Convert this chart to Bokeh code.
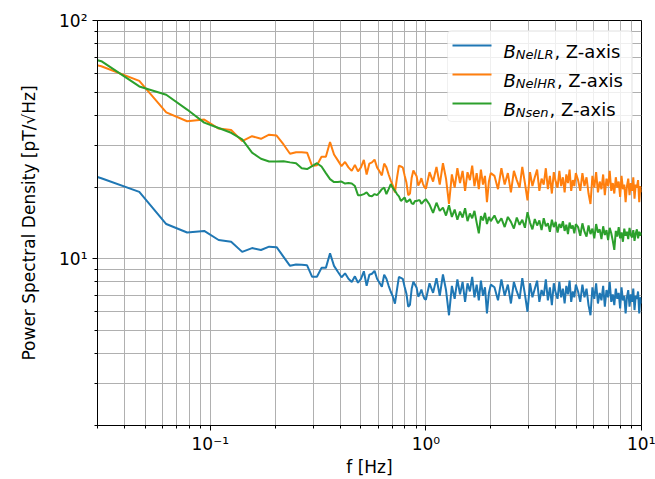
from bokeh.plotting import figure
from bokeh.models import FixedTicker, CustomJSTickFormatter, BoxAnnotation, Label, Range1d
from bokeh.embed import file_html
from bokeh.resources import INLINE

# ---------------- data ----------------
freq = [
    0.015625, 0.03125, 0.046875, 0.0625, 0.078125, 0.09375, 0.109375, 0.125,
    0.140625, 0.15625, 0.171875, 0.1875, 0.203125, 0.21875, 0.234375, 0.25,
    0.265625, 0.28125, 0.296875, 0.3125, 0.328125, 0.34375, 0.359375, 0.375,
    0.390625, 0.40625, 0.421875, 0.4375, 0.453125, 0.46875, 0.484375, 0.5,
    0.515625, 0.53125, 0.546875, 0.5625, 0.578125, 0.59375, 0.609375, 0.625,
    0.640625, 0.65625, 0.671875, 0.6875, 0.703125, 0.71875, 0.734375, 0.75,
    0.765625, 0.78125, 0.796875, 0.8125, 0.828125, 0.84375, 0.859375, 0.875,
    0.890625, 0.90625, 0.921875, 0.9375, 0.953125, 0.96875, 0.984375, 1.0,
    1.04, 1.08, 1.12, 1.16, 1.2, 1.24, 1.28, 1.32, 1.36, 1.4, 1.44, 1.48, 1.52,
    1.56, 1.6, 1.64, 1.68, 1.72, 1.76, 1.8, 1.84, 1.88, 1.92, 1.96, 2.0,
    2.08, 2.16, 2.24, 2.32, 2.4, 2.48, 2.56, 2.64, 2.72, 2.8, 2.88, 2.96, 3.04,
    3.12, 3.2, 3.28, 3.36, 3.44, 3.52, 3.6, 3.68, 3.76, 3.84, 3.92, 4.0, 4.08,
    4.16, 4.24, 4.32, 4.4, 4.48, 4.56, 4.64, 4.72, 4.8, 4.88, 4.96,
    5.08, 5.2, 5.32, 5.44, 5.56, 5.68, 5.8, 5.92, 6.04, 6.16, 6.28, 6.4, 6.52,
    6.64, 6.76, 6.88, 7.0, 7.12, 7.24, 7.36, 7.48, 7.6, 7.72, 7.84, 7.96, 8.08,
    8.2, 8.32, 8.44, 8.56, 8.68, 8.8, 8.92, 9.04, 9.16, 9.28, 9.4, 9.52, 9.64,
    9.76, 9.88, 10.0,
]

psd_nellr = [
    26.4, 21.8, 19.1, 14.0, 12.9, 13.1, 12.0, 11.8, 10.7, 11.1,
    10.9, 11.25, 11.2, 10.2, 9.35, 9.47, 9.44, 9.4, 8.41, 8.41,
    9.17, 9.17, 10.55, 9.35, 8.83, 8.37, 8.7, 8.25, 8.0, 8.45,
    7.94, 8.25, 8.87, 7.71, 8.58, 8.66, 8.91, 8.25, 7.94, 7.64,
    8.58, 8.25, 7.71, 7.28, 6.94, 6.49, 7.43, 8.41, 8.33, 8.25,
    7.64, 7.14, 6.30, 6.42, 7.49, 8.01, 7.79, 7.56, 6.94, 7.14,
    7.43, 7.07, 6.81, 6.74,
    7.9, 7.2, 8.3, 7.0, 8.6, 7.4, 5.8, 7.7, 6.8, 8.2, 7.1, 8.0, 6.6,
    7.9, 7.3, 8.4, 6.9, 7.8, 6.7, 8.1, 7.0, 7.6, 5.9, 7.2, 7.8,
    7.6, 6.7, 8.2, 7.0, 7.8, 6.5, 8.0, 7.3, 6.8, 8.3, 7.1, 6.0, 7.9,
    6.9, 7.5, 8.1, 6.6, 7.4, 7.0, 8.2, 6.7, 7.6, 6.4, 7.9, 7.2, 6.8,
    8.0, 6.9, 7.5, 6.5, 7.7, 7.1, 8.1, 6.6, 7.3, 6.9, 7.8,
    7.3, 6.6, 7.8, 6.9, 7.5, 6.4, 5.8, 7.6, 6.8, 7.9, 6.5, 7.2, 6.7,
    7.7, 6.3, 7.4, 6.9, 8.0, 6.6, 7.1, 6.4, 7.5, 6.8, 7.2, 6.2, 7.6,
    6.7, 7.0, 5.9, 6.9, 7.4, 6.3, 7.1, 6.6, 7.5, 6.1, 7.0, 6.8, 7.3,
    5.9, 6.9, 6.5,
]

psd_nelhr = [
    75.0, 64.3, 55.8, 41.2, 37.8, 38.4, 35.2, 34.7, 31.2, 32.7,
    31.9, 33.2, 32.9, 30.2, 27.6, 28.0, 28.0, 27.9, 24.5, 24.7,
    26.8, 26.8, 30.9, 27.4, 25.9, 24.5, 25.5, 24.2, 23.4, 24.8,
    23.3, 24.2, 26.0, 22.6, 25.1, 25.4, 26.1, 24.2, 23.3, 22.4,
    25.1, 24.2, 22.6, 21.3, 20.3, 19.0, 21.8, 24.6, 24.4, 24.2,
    22.4, 20.9, 18.5, 18.8, 21.9, 23.5, 22.8, 22.2, 20.3, 20.9,
    21.8, 20.7, 20.0, 19.7,
    23.1, 21.1, 24.3, 20.5, 25.2, 21.7, 17.0, 22.6, 19.9, 24.0, 20.8, 23.4, 19.3,
    23.1, 21.4, 24.6, 20.2, 22.9, 19.6, 23.7, 20.5, 22.3, 17.3, 21.1, 22.9,
    22.3, 19.6, 24.0, 20.5, 22.9, 19.0, 23.4, 21.4, 19.9, 24.3, 20.8, 17.6, 23.1,
    20.2, 22.0, 23.7, 19.3, 21.7, 20.5, 24.0, 19.6, 22.3, 18.8, 23.1, 21.1, 19.9,
    23.4, 20.2, 22.0, 19.0, 22.6, 20.8, 23.7, 19.3, 21.4, 20.2, 22.9,
    21.4, 19.3, 22.9, 20.2, 22.0, 18.8, 17.0, 22.3, 19.9, 23.1, 19.0, 21.1, 19.6,
    22.6, 18.5, 21.7, 20.2, 23.4, 19.3, 20.8, 18.8, 22.0, 19.9, 21.1, 18.2, 22.3,
    19.6, 20.5, 17.3, 20.2, 21.7, 18.5, 20.8, 19.3, 22.0, 17.9, 20.5, 19.9, 21.4,
    17.3, 20.2, 19.0,
]

psd_nsen = [
    79.0, 67.5, 52.9, 48.8, 42.3, 37.3, 35.4, 33.8, 31.7, 27.9,
    26.3, 25.6, 25.6, 25.7, 25.4, 25.2, 24.0, 23.8, 24.5, 25.2,
    24.4, 22.9, 21.6, 21.0, 21.0, 21.1, 20.7, 20.8, 20.7, 20.2,
    18.5, 18.5, 18.7, 19.0, 18.4, 18.3, 18.7, 18.5, 19.0, 19.6,
    19.9, 18.7, 19.6, 20.6, 19.8, 19.3, 18.7, 18.3, 17.5, 17.8,
    18.1, 17.3, 17.5, 17.8, 17.1, 17.0, 17.5, 17.5, 17.6, 17.6,
    17.0, 17.3, 17.6, 17.8,
    16.9, 15.6, 17.2, 15.9, 16.4, 15.2, 16.8, 15.0, 16.1, 14.6, 15.8, 14.9, 16.3,
    14.4, 15.5, 14.8, 15.9, 14.2, 12.8, 15.1, 14.5, 15.6, 14.0, 15.0, 14.4,
    15.2, 14.1, 14.8, 13.6, 15.0, 14.3, 13.4, 14.9, 13.9, 14.6, 13.5, 15.7, 14.2,
    13.3, 14.7, 13.8, 14.5, 13.2, 14.8, 13.7, 14.1, 13.0, 14.6, 13.6, 14.3, 12.9,
    14.0, 13.5, 14.4, 13.1, 13.9, 12.7, 14.2, 13.4, 13.8, 12.8, 14.0,
    13.6, 12.5, 14.1, 13.0, 12.4, 13.8, 12.7, 13.4, 12.2, 14.0, 12.9, 13.3, 12.1,
    13.7, 12.6, 13.2, 12.0, 13.5, 12.8, 11.9, 10.9, 13.1, 12.4, 13.6, 12.2, 12.9,
    11.8, 13.4, 12.5, 13.0, 12.1, 13.5, 12.6, 12.3, 13.2, 11.9, 12.8, 13.3, 12.2,
    13.0, 12.5, 12.9,
]

series_names = ["NelLR", "NelHR", "Nsen"]
series_colors = ["#1f77b4", "#ff7f0e", "#2ca02c"]

x_major = [0.1, 1, 10]
x_minor = [0.03, 0.04, 0.05, 0.06, 0.07, 0.08, 0.09,
           0.2, 0.3, 0.4, 0.5, 0.6, 0.7, 0.8, 0.9,
           2, 3, 4, 5, 6, 7, 8, 9]
y_major = [10, 100]
y_minor = [2, 3, 4, 5, 6, 7, 8, 9, 20, 30, 40, 50, 60, 70, 80, 90]

assert len(freq) == len(psd_nellr) == len(psd_nelhr) == len(psd_nsen), (
    len(freq), len(psd_nellr), len(psd_nelhr), len(psd_nsen))

# ---------------- figure ----------------
FONT = "DejaVu Sans"
p = figure(width=655, height=479, x_axis_type="log", y_axis_type="log",
           x_range=Range1d(0.03, 10), y_range=Range1d(2, 100),
           output_backend="svg", toolbar_location=None,
           min_border_left=97, min_border_right=14,
           min_border_top=20, min_border_bottom=53)

p.background_fill_color = "white"
p.border_fill_color = "white"
p.outline_line_color = "black"
p.outline_line_width = 1
p.outline_line_alpha = 1

p.xaxis.ticker = FixedTicker(ticks=x_major, minor_ticks=x_minor)
p.yaxis.ticker = FixedTicker(ticks=y_major, minor_ticks=y_minor)

fmt_code = """
const sup = {"-": "\\u207b", "0": "\\u2070", "1": "\\u00b9", "2": "\\u00b2", "3": "\\u00b3"};
const e = Math.round(Math.log10(tick));
return "10" + String(e).split("").map(c => sup[c]).join("");
"""
p.xaxis.formatter = CustomJSTickFormatter(code=fmt_code)
p.yaxis.formatter = CustomJSTickFormatter(code=fmt_code)

for ax in (p.xaxis, p.yaxis):
    ax.axis_line_color = "black"
    ax.major_tick_line_color = "black"
    ax.minor_tick_line_color = "black"
    ax.major_tick_in = 0
    ax.major_tick_out = 5
    ax.minor_tick_in = 0
    ax.minor_tick_out = 3
    ax.major_label_text_font = FONT
    ax.major_label_text_font_size = "17px"
    ax.major_label_text_color = "black"
    ax.axis_label_text_font = FONT
    ax.axis_label_text_font_size = "17px"
    ax.axis_label_text_font_style = "normal"
    ax.axis_label_text_color = "black"

p.xaxis.axis_label = "f [Hz]"
p.yaxis.axis_label = "Power Spectral Density [pT/\u221aHz]"
p.xaxis.major_label_standoff = 3
p.xaxis.axis_label_standoff = 0
p.yaxis.axis_label_standoff = 17

for g in (p.xgrid, p.ygrid):
    g.grid_line_color = "#b0b0b0"
    g.grid_line_width = 1
    g.minor_grid_line_color = "#b0b0b0"
    g.minor_grid_line_width = 1

for vals, col in zip([psd_nellr, psd_nelhr, psd_nsen], series_colors):
    p.line(freq, vals, line_color=col, line_width=2)

# ---------------- legend (drawn with screen-unit annotations) ----------------
su = dict(left_units="screen", right_units="screen", top_units="screen", bottom_units="screen")
p.add_layout(BoxAnnotation(left=350, right=535, bottom=304, top=395,
                           fill_color="white", fill_alpha=0.8,
                           line_color="#cccccc", line_width=1, border_radius=4, **su))
sub_widths = [37.6, 40.1, 32.7]
for i, (name, col, sw) in enumerate(zip(series_names, series_colors, sub_widths)):
    ly = 380 - 29 * i
    base = 374.5 - 29 * i
    p.add_layout(BoxAnnotation(left=355, right=394, bottom=ly - 1, top=ly + 1,
                               fill_color=col, fill_alpha=1, line_color=None, **su))
    p.add_layout(Label(x=406, y=base, x_units="screen", y_units="screen", text="B",
                       text_font=FONT, text_font_style="italic", text_font_size="18px",
                       text_baseline="alphabetic", text_color="black"))
    p.add_layout(Label(x=418.3, y=base - 3.5, x_units="screen", y_units="screen", text=name,
                       text_font=FONT, text_font_style="italic", text_font_size="13px",
                       text_baseline="alphabetic", text_color="black"))
    p.add_layout(Label(x=418.3 + sw + 1, y=base, x_units="screen", y_units="screen", text=", Z-axis",
                       text_font=FONT, text_font_size="18px",
                       text_baseline="alphabetic", text_color="black"))

open("out.html", "w").write(file_html(p, INLINE))
